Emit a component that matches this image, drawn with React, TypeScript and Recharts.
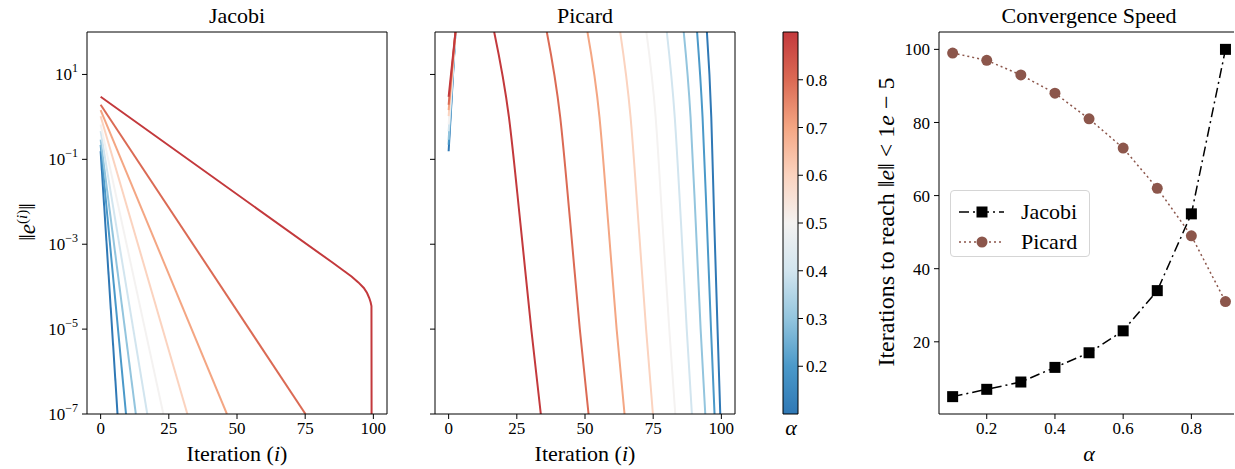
import React from 'react';
import { LineChart, Line, XAxis, YAxis, Legend, BarChart, Bar } from 'recharts';

const FONT = "'Liberation Serif', 'Times New Roman', Tinos, 'Noto Serif', 'DejaVu Serif', FreeSerif, serif";

const ALPHAS = [0.1, 0.2, 0.3, 0.4, 0.5, 0.6, 0.7, 0.8, 0.9];
const ALPHA_COLORS = ['#2f78b5', '#4b99c9', '#93c5de', '#d2e5ef', '#f4f2f1', '#fbd3bf', '#f4a683', '#db6a54', '#c3393c'];

// error at iteration 0, per alpha
const START_ERR = [0.155, 0.22, 0.29, 0.46, 0.66, 1.04, 1.44, 1.93, 2.98];

// Jacobi: iteration where the line leaves the bottom (1e-7), alpha 0.1 .. 0.8
const JACOBI_END_ITER = [6.2, 9.3, 12.9, 17.1, 23.0, 31.8, 46.3, 75.1];
// alpha 0.9 bends over and drops at i ~ 99
const JACOBI_TAIL_ITER = [85, 89, 92, 94.5, 96.5, 97.7, 98.5, 99.0, 99.3, 99.35];
const JACOBI_TAIL_ERR = [3.7e-4, 2.4e-4, 1.74e-4, 1.26e-4, 9.3e-5, 7.1e-5, 5.4e-5, 4.3e-5, 3.5e-5, 1e-7];

// Picard: shoots above the top, then comes back down
const PICARD_RISE_ITER = 2.5;
const PICARD_DESCENT_ERR = [100, 1, 3.2e-3, 1e-5, 1e-7];
const PICARD_DESCENT_ITER = [
  [94.7, 96.3, 97.4, 98.6, 99.6],
  [91.1, 93.1, 94.7, 96.2, 97.5],
  [86.2, 88.7, 90.6, 92.4, 94.1],
  [80.0, 82.9, 85.2, 87.3, 89.2],
  [72.5, 75.9, 78.4, 80.9, 83.1],
  [62.9, 66.7, 69.6, 72.4, 74.9],
  [50.9, 55.3, 58.5, 61.6, 64.5],
  [36.0, 40.9, 44.6, 48.1, 51.3],
  [16.7, 22.1, 26.3, 30.3, 33.8],
];

// iterations to reach ||e|| < 1e-5
const SPEED_JACOBI = [5, 7, 9, 13, 17, 23, 34, 55, 100];
const SPEED_PICARD = [99, 97, 93, 88, 81, 73, 62, 49, 31];

const LOG_TICKS = [1e-7, 1e-5, 1e-3, 1e-1, 10];
const ITER_TICKS = [0, 25, 50, 75, 100];
const CBAR_TICKS = [0.2, 0.3, 0.4, 0.5, 0.6, 0.7, 0.8];
const ALPHA_TICKS = [0.2, 0.4, 0.6, 0.8];
const SPEED_TICKS = [20, 40, 60, 80, 100];

const jacobiSeries = ALPHAS.map((a, k) => {
  if (k < JACOBI_END_ITER.length) {
    return [{ i: 0, e: START_ERR[k] }, { i: JACOBI_END_ITER[k], e: 1e-7 }];
  }
  return [{ i: 0, e: START_ERR[k] }, ...JACOBI_TAIL_ITER.map((i, j) => ({ i, e: JACOBI_TAIL_ERR[j] }))];
});

const picardSeries = ALPHAS.map((a, k) => [
  { i: 0, e: START_ERR[k] },
  { i: PICARD_RISE_ITER, e: 100 },
  { i: 8, e: null },
  ...PICARD_DESCENT_ITER[k].map((i, j) => ({ i, e: PICARD_DESCENT_ERR[j] })),
]);

const speedRows = ALPHAS.map((a, k) => ({ alpha: a, jacobi: SPEED_JACOBI[k], picard: SPEED_PICARD[k] }));

const tickText = { fontFamily: FONT, fontSize: 17, fill: '#000' };
const black = { stroke: '#000' };

function LogTick(props: any) {
  const { x, y, payload } = props;
  const exp = Math.round(Math.log10(payload.value));
  return (
    <text x={x} y={y} textAnchor="end" dy={6} style={{ fontFamily: FONT }} fontSize={17} fill="#000">
      <tspan>10</tspan>
      <tspan dy={-8} fontSize={12}>{exp < 0 ? '\u2212' + -exp : String(exp)}</tspan>
    </text>
  );
}

function ErrorPanel({ series, labels, left, width, marginLeft, yWidth, curve }: any) {
  return (
    <div style={{ position: 'absolute', left, top: 0 }}>
      <LineChart width={width} height={469} margin={{ top: 31, right: 12, bottom: 25, left: marginLeft }}>
        <XAxis dataKey="i" type="number" domain={[-5, 105]} ticks={ITER_TICKS} allowDataOverflow height={30}
          tickSize={5} tickMargin={3} tick={tickText} axisLine={black} tickLine={black} />
        <XAxis xAxisId="top" orientation="top" type="number" domain={[-5, 105]} height={1} tick={false}
          tickLine={false} axisLine={black} />
        <YAxis type="number" scale="log" domain={[1e-7, 100]} allowDataOverflow ticks={LOG_TICKS} width={yWidth}
          tickSize={5} tickMargin={4} tick={labels ? <LogTick /> : tickText} tickFormatter={() => ''}
          axisLine={black} tickLine={black} />
        <YAxis yAxisId="right" orientation="right" type="number" domain={[0, 1]} width={1} tick={false}
          tickLine={false} axisLine={black} />
        {series.map((s: any, k: number) => (
          <Line key={k} data={s} dataKey="e" type={curve} stroke={ALPHA_COLORS[k]}
            strokeWidth={2} dot={false} connectNulls={false} isAnimationActive={false} />
        ))}
      </LineChart>
    </div>
  );
}

function ColorBar() {
  const data = [{ name: 'alpha', v: [ALPHAS[0], ALPHAS[ALPHAS.length - 1]] }];
  return (
    <div style={{ position: 'absolute', left: 770, top: 0 }}>
      <BarChart width={60} height={469} data={data} margin={{ top: 32, right: 0, bottom: 55, left: 13 }}
        barCategoryGap={0}>
        <defs>
          <linearGradient id="cbar" x1="0" y1="1" x2="0" y2="0">
            {ALPHA_COLORS.map((c, k) => (
              <stop key={k} offset={k / (ALPHA_COLORS.length - 1)} stopColor={c} />
            ))}
          </linearGradient>
        </defs>
        <XAxis dataKey="name" hide />
        <YAxis orientation="right" type="number" domain={[0.1, 0.9]} ticks={CBAR_TICKS} width={32}
          axisLine={false} tickSize={5} tickMargin={3} tickLine={black} tick={{ ...tickText, textAnchor: 'start' }}
          tickFormatter={(v: number) => v.toFixed(1)} />
        <Bar dataKey="v" fill="url(#cbar)" stroke="#000" strokeWidth={1} isAnimationActive={false} />
      </BarChart>
    </div>
  );
}

const SquareDot = (p: any) => (
  <rect key={`sq-${p.index}`} x={p.cx - 5.5} y={p.cy - 5.5} width={11} height={11} fill="#000" />
);
const CircleDot = (p: any) => <circle key={`ci-${p.index}`} cx={p.cx} cy={p.cy} r={5.5} fill="#8c564b" />;

function SpeedLegend() {
  const row = (top: number, label: string, stroke: string, dash: string, marker: React.ReactNode) => (
    <div style={{ position: 'absolute', left: 0, top, width: 140, height: 30 }}>
      <svg width={60} height={30} style={{ position: 'absolute', left: 0, top: 0 }}>
        <line x1={8} y1={15} x2={53} y2={15} stroke={stroke} strokeWidth={1.5} strokeDasharray={dash} />
        {marker}
      </svg>
      <span style={{ position: 'absolute', left: 70, top: 1, fontFamily: FONT, fontSize: 22, lineHeight: '28px', color: '#000' }}>
        {label}
      </span>
    </div>
  );
  return (
    <div style={{ position: 'relative', width: 140, height: 67, boxSizing: 'border-box', border: '1px solid #d5d5d5',
      borderRadius: 4, background: 'rgba(255,255,255,0.85)' }}>
      {row(6, 'Jacobi', '#000', '10 4 2 4', <rect x={25.5} y={9.5} width={11} height={11} fill="#000" />)}
      {row(36, 'Picard', '#8c564b', '2 3', <circle cx={31} cy={15} r={5.5} fill="#8c564b" />)}
    </div>
  );
}

function SpeedPanel() {
  return (
    <div style={{ position: 'absolute', left: 850, top: 0 }}>
      <LineChart width={385} height={469} data={speedRows} margin={{ top: 31, right: 1, bottom: 25, left: 29 }}>
        <XAxis dataKey="alpha" type="number" domain={[0.06, 0.925]} allowDataOverflow ticks={ALPHA_TICKS} height={30}
          tickSize={5} tickMargin={3} tick={tickText} axisLine={black} tickLine={black}
          tickFormatter={(v: number) => v.toFixed(1)} />
        <XAxis xAxisId="top" orientation="top" type="number" domain={[0, 1]} height={1} tick={false}
          tickLine={false} axisLine={black} />
        <YAxis type="number" domain={[0.25, 104.75]} ticks={SPEED_TICKS} width={60} tickSize={5} tickMargin={4}
          tick={tickText} axisLine={black} tickLine={black} />
        <Line dataKey="jacobi" type="linear" stroke="#000" strokeWidth={1.5} strokeDasharray="10 4 2 4"
          dot={SquareDot} isAnimationActive={false} />
        <Line dataKey="picard" type="linear" stroke="#8c564b" strokeWidth={1.5} strokeDasharray="2 3"
          dot={CircleDot} isAnimationActive={false} />
        <Legend layout="vertical" align="center" verticalAlign="middle" content={() => <SpeedLegend />}
          wrapperStyle={{ left: 100, top: 190, width: 140, height: 67 }} />
      </LineChart>
    </div>
  );
}

function Texts() {
  const t = { style: { fontFamily: FONT }, fill: '#000' };
  return (
    <svg width={1235} height={469} style={{ position: 'absolute', left: 0, top: 0, pointerEvents: 'none' }}>
      <text x={237} y={23} textAnchor="middle" fontSize={22} {...t}>Jacobi</text>
      <text x={585} y={23} textAnchor="middle" fontSize={22} {...t}>Picard</text>
      <text x={1089} y={23} textAnchor="middle" fontSize={22} {...t}>Convergence Speed</text>
      <text x={237} y={461} textAnchor="middle" fontSize={22} {...t}>
        Iteration (<tspan fontStyle="italic">i</tspan>)
      </text>
      <text x={585} y={461} textAnchor="middle" fontSize={22} {...t}>
        Iteration (<tspan fontStyle="italic">i</tspan>)
      </text>
      <text x={1089} y={461} textAnchor="middle" fontSize={22} fontStyle="italic" {...t}>α</text>
      <text x={791} y={435} textAnchor="middle" fontSize={22} fontStyle="italic" {...t}>α</text>
      <text transform="translate(35,222) rotate(-90)" textAnchor="middle" fontSize={23} {...t}>
        ‖<tspan fontStyle="italic">e</tspan>
        <tspan dy={-8} fontSize={15}>(<tspan fontStyle="italic">i</tspan>)</tspan>
        <tspan dy={8}>‖</tspan>
      </text>
      <text transform="translate(894,222) rotate(-90)" textAnchor="middle" fontSize={24} {...t}>
        Iterations to reach ‖<tspan fontStyle="italic">e</tspan>‖ {'<'} 1<tspan fontStyle="italic">e</tspan> − 5
      </text>
    </svg>
  );
}

export default function App() {
  return (
    <div style={{ position: 'absolute', left: 0, top: 0, width: 1235, height: 469, background: '#fff', overflow: 'hidden', fontFamily: FONT }}>
      <ErrorPanel series={jacobiSeries} labels left={0} width={400} marginLeft={26} yWidth={61} curve="linear" />
      <ErrorPanel series={picardSeries} labels={false} left={400} width={348} marginLeft={34} yWidth={1} curve="monotone" />
      <ColorBar />
      <SpeedPanel />
      <Texts />
    </div>
  );
}
